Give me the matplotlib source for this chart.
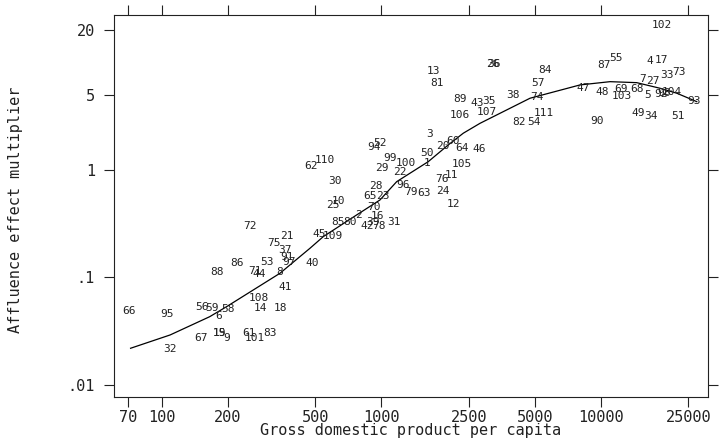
import matplotlib
matplotlib.use("Agg")
import matplotlib.pyplot as plt
from matplotlib.ticker import NullLocator

# country numbers, GDP per capita, affluence multiplier
labels = [66, 95, 32, 56, 59, 58, 6, 67, 15, 19, 9, 61, 101, 83, 88, 86, 53, 71, 44, 8,
          41, 108, 14, 18, 91, 97, 72, 21, 75, 37, 40, 45, 109, 25, 10, 85, 80, 2, 42, 78,
          39, 16, 70, 31, 65, 23, 28, 110, 62, 30, 52, 94, 99, 29, 100, 22, 3, 50, 1, 20,
          60, 64, 46, 105, 11, 76, 24, 12, 96, 79, 63, 13, 81, 26, 36, 89, 43, 35, 107, 106,
          38, 84, 57, 74, 111, 82, 54, 102, 87, 55, 4, 17, 33, 73, 7, 27, 47, 48, 69, 68,
          103, 5, 92, 98, 104, 93, 49, 34, 51, 90]
gdp = [71, 106, 109, 152, 169, 199, 181, 151, 182, 183, 197, 249, 265, 310, 178, 220, 300, 265, 277, 345,
       366, 277, 280, 347, 372, 380, 252, 372, 324, 363, 486, 521, 603, 603, 636, 636, 719, 784, 861, 977,
       918, 957, 925, 1140, 887, 1019, 944, 553, 476, 614, 984, 927, 1093, 1002, 1293, 1214, 1651, 1607, 1617, 1912,
       2111, 2320, 2790, 2320, 2089, 1880, 1912, 2138, 1249, 1363, 1567, 1722, 1784, 3231, 3240, 2279, 2732, 3097, 3013, 2279,
       3960, 5559, 5149, 5093, 5497, 4246, 4953, 18900, 10320, 11670, 16720, 18760, 19920, 22740, 15540, 17310, 8299, 10070, 12330, 14540,
       12430, 16370, 18760, 19360, 20990, 26530, 14790, 16840, 22490, 9618]
mult = [0.0485, 0.0452, 0.0215, 0.0525, 0.0514, 0.0503, 0.0436, 0.027, 0.0301, 0.030, 0.027, 0.0301, 0.027, 0.0301, 0.111, 0.135, 0.140, 0.115, 0.107, 0.111,
        0.0817, 0.0646, 0.0514, 0.0514, 0.1536, 0.140, 0.303, 0.2426, 0.2074, 0.1796, 0.135, 0.253, 0.2426, 0.472, 0.518, 0.326, 0.326, 0.381, 0.301, 0.301,
        0.330, 0.369, 0.455, 0.326, 0.576, 0.576, 0.709, 1.24, 1.09, 0.795, 1.797, 1.649, 1.285, 1.037, 1.17, 0.964, 2.165, 1.45, 1.17, 1.674,
        1.876, 1.593, 1.569, 1.13, 0.898, 0.819, 0.641, 0.482, 0.725, 0.628, 0.614, 8.42, 6.51, 9.72, 9.72, 4.56, 4.24, 4.42, 3.49, 3.26,
        5.0, 8.55, 6.43, 4.76, 3.38, 2.82, 2.82, 22.45, 9.52, 10.99, 10.37, 10.6, 7.68, 8.11, 7.05, 6.80, 5.77, 5.37, 5.69, 5.69,
        4.89, 4.95, 5.11, 5.22, 5.37, 4.42, 3.42, 3.19, 3.19, 2.88]

# fitted curve, traced
curve_gdp = [72, 109, 165, 197, 345, 425, 472, 543, 771, 984, 1173, 1633, 2014, 2358, 2810,
             4748, 8023, 10990, 14540, 18570, 22130, 27290]
curve_mult = [0.0218, 0.029, 0.0429, 0.0532, 0.109, 0.1556, 0.186, 0.239, 0.381, 0.525,
              0.778, 1.195, 1.71, 2.20, 2.72, 4.66, 6.20, 6.65, 6.51, 5.77, 5.19, 4.33]

xticks = [70, 100, 200, 500, 1000, 2500, 5000, 10000, 25000]
yticks = [0.01, 0.1, 1, 5, 20]
ytick_labels = [".01", ".1", "1", "5", "20"]

plt.rcParams['font.family'] = ['DejaVu Sans Mono']
ink = '#222222'

fig = plt.figure(figsize=(7.28, 4.46), dpi=100)
ax = fig.add_axes([114.3 / 728, 1 - 397 / 446, (708 - 114.3) / 728, (397 - 15) / 446])
ax.set_xscale('log')
ax.set_yscale('log')
ax.set_xlim(60.7, 30700)
ax.set_ylim(0.00766, 27.8)

for lab, x, y in zip(labels, gdp, mult):
    ax.text(x, y, str(lab), ha='center', va='center', fontsize=8, color=ink)

ax.plot(curve_gdp, curve_mult, color='black', lw=0.9)

ax.xaxis.set_minor_locator(NullLocator())
ax.yaxis.set_minor_locator(NullLocator())
ax.set_xticks(xticks, [str(t) for t in xticks])
ax.set_yticks(yticks, ytick_labels)
ax.tick_params(direction='out', top=True, right=True, length=7, width=0.8,
               labelsize=11, colors=ink)
ax.tick_params(axis='x', pad=2)
ax.tick_params(axis='y', pad=7)
for s in ax.spines.values():
    s.set_linewidth(0.8)
    s.set_color(ink)

fig.text(411 / 728, 1 - 430 / 446, "Gross domestic product per capita",
         ha='center', va='center', fontsize=11, color=ink)
fig.text(16 / 728, 1 - 210 / 446, "Affluence effect multiplier", rotation=90,
         ha='center', va='center', fontsize=11, color=ink)

fig.savefig('out.png', dpi=100)
